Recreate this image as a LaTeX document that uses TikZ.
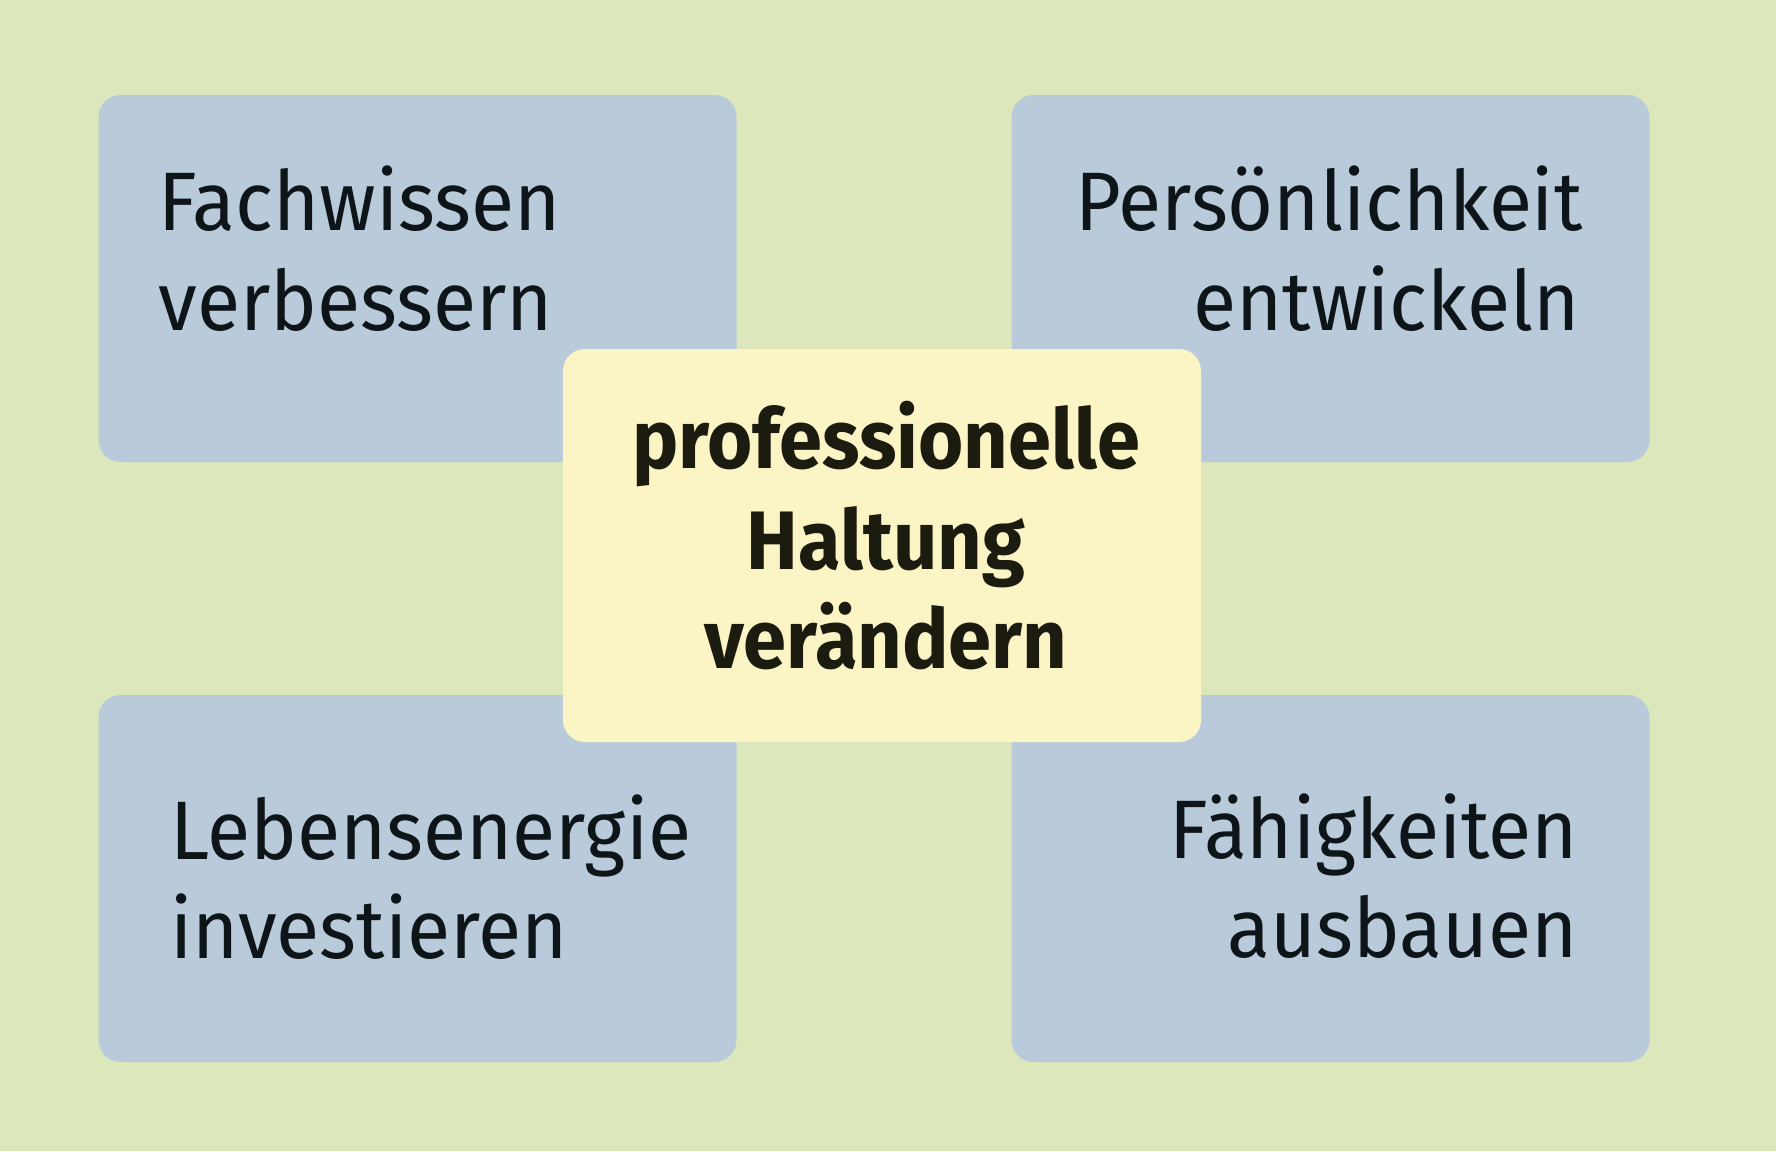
\documentclass[tikz,border=0pt]{standalone}
\usepackage{fontspec}
\setmainfont{Fira Sans}[FakeStretch=0.95, BoldFeatures={FakeStretch=0.935}]
\definecolor{bg}{HTML}{DCE7BB}
\definecolor{boxblue}{HTML}{B9CBDA}
\definecolor{boxyellow}{HTML}{FBF5C6}
\definecolor{txtdark}{HTML}{0E1519}
\definecolor{txtcenter}{HTML}{1C1B10}
\tikzset{
  basebox/.style={rectangle, rounded corners=11pt, inner sep=0pt, draw=none,
    minimum width=319pt},
  bluebox/.style={basebox, fill=boxblue, minimum height=183.5pt},
  centerbox/.style={basebox, fill=boxyellow, minimum height=196.5pt},
  lbl/.style={inner sep=0pt, text=txtdark, font=\fontsize{41.5pt}{50pt}\selectfont},
  clbl/.style={inner sep=0pt, text=txtcenter, font=\fontsize{41.5pt}{50pt}\selectfont\bfseries, anchor=base},
}
\begin{document}
\begin{tikzpicture}[x=0.5pt, y=-0.5pt]
\fill[bg] (0,0) rectangle (1776,1151);
\useasboundingbox (0,0) rectangle (1776,1151);
\node[bluebox] (tl) at (417.5,278.5) {};
\node[bluebox] (tr) at (1330.5,278.5) {};
\node[bluebox] (bl) at (417.5,878.5) {};
\node[bluebox] (br) at (1330.5,878.5) {};
\node[centerbox] (c) at (882,545.5) {};
% top left
\node[lbl, anchor=base west] (tla) at (158.5,230) {Fachwissen};
\node[lbl, anchor=base west] (tlb) at (158.5,330) {verbessern};
% top right
\node[lbl, anchor=base east] (tra) at (1583,230) {Persönlichkeit};
\node[lbl, anchor=base east] (trb) at (1580,330) {entwickeln};
% bottom left
\node[lbl, anchor=base west] (bla) at (170,859) {Lebensenergie};
\node[lbl, anchor=base west] (blb) at (170,958) {investieren};
% bottom right
\node[lbl, anchor=base east] (bra) at (1578,858) {Fähigkeiten};
\node[lbl, anchor=base east] (brb) at (1578,957) {ausbauen};
% center
\node[clbl] (ca) at (886,468) {professionelle};
\node[clbl] (cb) at (886,569) {Haltung};
\node[clbl] (cc) at (886,668) {verändern};
\end{tikzpicture}
\end{document}
